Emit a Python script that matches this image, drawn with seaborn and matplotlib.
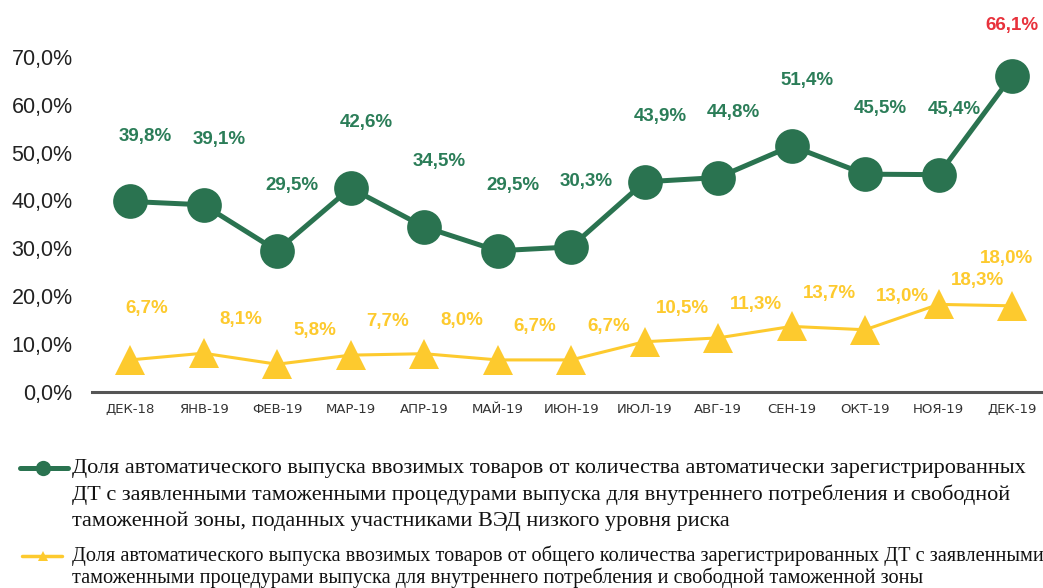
import matplotlib
matplotlib.use("Agg")
import matplotlib.pyplot as plt
from matplotlib.lines import Line2D
import numpy as np
import pandas as pd
import seaborn as sns

# --- data ---
months = ["ДЕК-18", "ЯНВ-19", "ФЕВ-19", "МАР-19", "АПР-19", "МАЙ-19", "ИЮН-19",
          "ИЮЛ-19", "АВГ-19", "СЕН-19", "ОКТ-19", "НОЯ-19", "ДЕК-19"]
low_risk_share = [39.8, 39.1, 29.5, 42.6, 34.5, 29.5, 30.3, 43.9, 44.8, 51.4, 45.5, 45.4, 66.1]
total_share = [6.7, 8.1, 5.8, 7.7, 8.0, 6.7, 6.7, 10.5, 11.3, 13.7, 13.0, 18.3, 18.0]
y_ticks = [0, 10, 20, 30, 40, 50, 60, 70]

legend_green = [
    "Доля автоматического выпуска ввозимых товаров от количества автоматически зарегистрированных",
    "ДТ с заявленными таможенными процедурами выпуска для внутреннего потребления и свободной",
    "таможенной зоны, поданных участниками ВЭД низкого уровня риска",
]
legend_yellow = [
    "Доля автоматического выпуска ввозимых товаров от общего количества зарегистрированных ДТ с заявленными",
    "таможенными процедурами выпуска для внутреннего потребления и свободной таможенной зоны",
]

GREEN = "#2a7350"
GREEN_TXT = "#2b7d58"
YELLOW = "#fdca2e"
RED = "#e8323c"

sns.set_theme(style="white")
plt.rcParams["font.family"] = ["Liberation Sans", "DejaVu Sans"]

W, H = 1043, 588
fig = plt.figure(figsize=(W / 100, H / 100), dpi=100)
ax = fig.add_axes([92 / W, 1 - 392 / H, (W - 92) / W, (392 - 9) / H])

df = pd.DataFrame({"x": np.arange(len(months)), "green": low_risk_share, "yellow": total_share})

sns.lineplot(data=df, x="x", y="yellow", ax=ax, color=YELLOW, lw=2.2,
             marker="^", markersize=22, markeredgewidth=0, clip_on=False, zorder=3)
sns.lineplot(data=df, x="x", y="green", ax=ax, color=GREEN, lw=3.6,
             marker="o", markersize=25, markeredgewidth=0, clip_on=False, zorder=4)

ax.set_xlim(-0.517, 12.42)
ax.set_ylim(0, 80)
ax.set_yticks(y_ticks)
ax.set_yticklabels([f"{v:.1f}%".replace(".", ",") for v in y_ticks], fontsize=15.5, color="#222222")
ax.set_xticks(df["x"])
ax.set_xticklabels(months, fontsize=9.5, color="#333333", family="DejaVu Sans")
ax.tick_params(axis="y", length=0, pad=14)
ax.tick_params(axis="x", length=0, pad=8)
ax.set_xlabel("")
ax.set_ylabel("")
for s in ["left", "right", "top"]:
    ax.spines[s].set_visible(False)
ax.spines["bottom"].set_color("#555555")
ax.spines["bottom"].set_linewidth(2.2)

# data labels
last = len(months) - 1
for i, v in enumerate(low_risk_share):
    off = (0, 36) if i == last else (11, 47)
    ax.annotate(f"{v:.1f}%".replace(".", ","), (i, v), xytext=off, textcoords="offset points",
                ha="center", va="center", fontsize=13.5, fontweight="bold",
                color=RED if i == last else GREEN_TXT, annotation_clip=False)

# yellow labels sit up-right of the triangles, a few are nudged like in the original
yellow_offsets = {0: (12, 37), last - 1: (28, 17), last: (-4, 34)}
for i, v in enumerate(total_share):
    off = yellow_offsets.get(i, (27, 24))
    ax.annotate(f"{v:.1f}%".replace(".", ","), (i, v), xytext=off, textcoords="offset points",
                ha="center", va="center", fontsize=13.5, fontweight="bold",
                color=YELLOW, annotation_clip=False)

# legend drawn below the chart
def fy(py):
    return 1 - py / H

fig.add_artist(Line2D([20 / W, 68 / W], [fy(468)] * 2, color=GREEN, lw=3.6))
fig.add_artist(Line2D([43 / W], [fy(468)], color=GREEN, marker="o", markersize=11, markeredgewidth=0))
for k, line in enumerate(legend_green):
    fig.text(72 / W, fy(468 + 26.5 * k), line, fontsize=16, family="Liberation Serif",
             color="#111111", va="center", ha="left")

fig.add_artist(Line2D([22 / W, 62 / W], [fy(556)] * 2, color=YELLOW, lw=2.5))
fig.add_artist(Line2D([43 / W], [fy(556)], color=YELLOW, marker="^", markersize=7, markeredgewidth=0))
for k, line in enumerate(legend_yellow):
    fig.text(72 / W, fy(556 + 22 * k), line, fontsize=14.6, family="Liberation Serif",
             color="#111111", va="center", ha="left")

fig.savefig("out.png", dpi=100, facecolor="white")
